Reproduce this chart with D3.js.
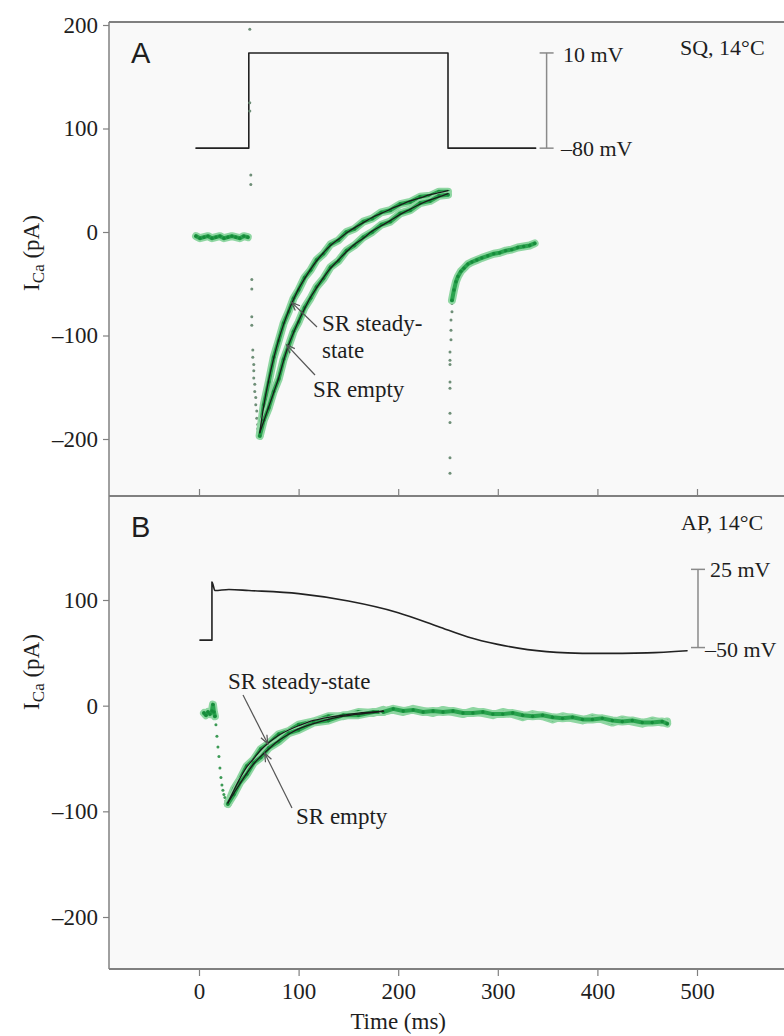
<!DOCTYPE html>
<html>
<head>
<meta charset="utf-8">
<script src="https://cdn.jsdelivr.net/npm/d3@7"></script>
<style>
  body { margin: 0; background: #fff; }
</style>
</head>
<body>
<svg id="chart" width="784" height="1036"></svg>
<script>
// ---- data ----
const xTicks = [0, 100, 200, 300, 400, 500];
const yTicksA = [200, 100, 0, -100, -200];
const yTicksB = [100, 0, -100, -200];

// panel A : square pulse protocol (drawn in the pA frame)
const stepA_t = [-3, 50, 50, 250, 250, 338];
const stepA_v = [81, 81, 173, 173, 81, 81];

// panel A : holding current before the step
const preA_t = [-3, 1, 5, 9, 13, 17, 21, 25, 29, 33, 37, 41, 45, 49];
const preA_v = [-4, -6, -5, -4, -6, -5, -4, -6, -5, -4, -5, -6, -4, -5];

// panel A : capacity transient samples at step onset
const capA_t = [51, 51, 51, 52, 52, 53, 53, 53, 53, 54, 54, 55, 55, 55, 56, 56, 57, 57, 58, 58, 59, 59, 60];
const capA_v = [196, 125, 117, 55, 46, -46, -55, -82, -90, -114, -121, -128, -134, -141, -147, -154, -160, -167, -173, -180, -186, -190, -196];

// panel A : inactivation, recorded and fitted
const fitA_t = [61, 65, 70, 75, 80, 85, 90, 95, 100, 106, 112, 118, 125, 132, 140, 148, 156, 165, 174, 183, 192, 202, 212, 222, 232, 241, 250];
const fitA_ss = [-194, -168, -143, -122, -104, -89, -76, -65, -55, -45, -36, -28, -20, -13, -7, -1, 4, 9, 14, 18, 22, 26, 30, 33, 36, 38, 40];
const fitA_empty = [-194, -183, -169, -155, -141, -124, -109, -97, -86, -74, -63, -54, -44, -35, -27, -19, -12, -6, 1, 6, 11, 17, 22, 27, 31, 34, 37];
const recA_ss = [-196, -167, -145, -121, -105, -88, -77, -64, -56, -44, -37, -27, -21, -12, -8, 0, 3, 10, 13, 19, 21, 27, 29, 34, 35, 39, 39];
const recA_empty = [-197, -182, -170, -154, -142, -123, -110, -96, -87, -73, -64, -53, -45, -34, -28, -18, -13, -5, 0, 7, 10, 18, 21, 28, 30, 35, 36];

// panel A : tail current after repolarisation
const tailDotsA_t = [252, 252, 252, 252, 252, 252, 252, 252, 252, 253, 253, 253, 254, 254];
const tailDotsA_v = [-233, -218, -184, -175, -151, -145, -128, -124, -116, -104, -95, -85, -77, -69];
const tailA_t = [254, 256, 258, 260, 263, 266, 270, 274, 279, 284, 290, 296, 302, 308, 314, 320, 326, 332, 337];
const tailA_v = [-66, -56, -48, -43, -38, -35, -31, -29, -27, -25, -23, -21, -20, -18, -17, -15, -14, -13, -11];

// panel B : action-potential clamp waveform (drawn in the pA frame)
const apB_t = [1, 13, 13, 16, 30, 50, 100, 150, 200, 240, 270, 300, 330, 370, 400, 450, 490];
const apB_v = [62, 62, 117, 109, 110, 109, 106, 99, 88, 75, 65, 58, 53, 50, 49.5, 50, 52];

// panel B : current
const preB_t = [5, 7, 9, 11, 13, 14, 15, 16];
const preB_v = [-7, -9, -6, -8, -5, 1, -6, -10];
const dropB_t = [17, 18, 19, 20, 21, 22, 23, 24, 25, 26, 27, 28];
const dropB_v = [-18, -29, -39, -48, -59, -68, -75, -80, -84, -87, -90, -92];
const fitB_t = [29, 35, 41, 48, 55, 62, 70, 80, 90, 100, 115, 130, 145, 160, 175, 185];
const fitB_ss = [-92, -80, -69, -58, -50, -42, -35, -28, -23, -19, -14, -11, -9, -7, -6, -5];
const fitB_empty = [-92, -83, -74, -64, -55, -48, -41, -33, -27, -22, -17, -13, -10, -8, -6.5, -5.5];
const recB_ss = [-93, -79, -70, -57, -51, -41, -36, -27, -24, -18, -15, -10, -10, -6, -7, -4];
const recB_empty = [-93, -84, -73, -65, -54, -49, -40, -34, -26, -23, -16, -14, -9, -9, -6, -6];
const tailB_t = [185, 195, 205, 215, 225, 235, 245, 255, 265, 275, 285, 295, 305, 315, 325, 335, 345, 355, 365, 375, 385, 395, 405, 415, 425, 435, 445, 455, 465, 470];
const tailB_a = [-5, -4, -6, -3, -5, -7, -4, -6, -8, -5, -7, -9, -6, -8, -11, -8, -10, -13, -10, -12, -14, -11, -13, -16, -13, -15, -17, -14, -16, -15];
const tailB_b = [-6, -3, -5, -4, -6, -5, -6, -5, -7, -7, -6, -8, -8, -7, -9, -10, -9, -11, -12, -11, -13, -13, -12, -14, -15, -14, -16, -16, -15, -17];

// ---- layout ----
const plotLeft = 109, plotRight = 784;
const topA = 22, sep = 496, bottom = 969;
const SERIF = "'Liberation Serif', 'Times New Roman', Times, serif";
const SANS = "'Liberation Sans', Arial, sans-serif";

const svg = d3.select("#chart");

const x = d3.scaleLinear().domain([0, 500]).range([199, 697]);
const yA = d3.scaleLinear().domain([-200, 200]).range([439, 25]);
const yB = d3.scaleLinear().domain([-200, 100]).range([917, 600]);

const fmt = d => d < 0 ? "\u2013" + Math.abs(d) : String(d);
const zip = (t, v) => t.map((d, i) => [d, v[i]]);

function label(g, px, py, str, size, family) {
  return g.append("text")
    .attr("x", px).attr("y", py)
    .attr("font-family", family || SERIF)
    .attr("font-size", size || 23)
    .attr("fill", "#1e1e1e")
    .text(str);
}

// plot background
svg.append("rect")
  .attr("x", plotLeft).attr("y", topA)
  .attr("width", plotRight - plotLeft).attr("height", bottom - topA)
  .attr("fill", "#f9f9f9");

// frame lines
const frame = svg.append("g").attr("stroke", "#808080").attr("fill", "none");
frame.append("line").attr("x1", plotLeft).attr("x2", plotRight).attr("y1", topA).attr("y2", topA).attr("stroke-width", 2);
frame.append("line").attr("x1", plotLeft).attr("x2", plotRight).attr("y1", sep).attr("y2", sep).attr("stroke-width", 2);
frame.append("line").attr("x1", plotLeft).attr("x2", plotRight).attr("y1", bottom).attr("y2", bottom).attr("stroke-width", 2);
frame.append("line").attr("x1", plotLeft).attr("x2", plotLeft).attr("y1", topA).attr("y2", bottom).attr("stroke-width", 1.5);

function styleAxis(g) {
  g.attr("font-family", SERIF).attr("font-size", 23);
  g.select(".domain").remove();
  g.selectAll(".tick line").attr("stroke", "#808080").attr("stroke-width", 1.2);
  g.selectAll(".tick text").attr("fill", "#1e1e1e");
}

svg.append("g").attr("transform", `translate(${plotLeft},0)`)
  .call(d3.axisLeft(yA).tickValues(yTicksA).tickSize(6).tickPadding(5).tickFormat(fmt))
  .call(styleAxis);
svg.append("g").attr("transform", `translate(${plotLeft},0)`)
  .call(d3.axisLeft(yB).tickValues(yTicksB).tickSize(6).tickPadding(5).tickFormat(fmt))
  .call(styleAxis);
svg.append("g").attr("transform", `translate(0,${sep})`)
  .call(d3.axisTop(x).tickValues(xTicks).tickSize(7).tickFormat(""))
  .call(styleAxis);
svg.append("g").attr("transform", `translate(0,${bottom})`)
  .call(d3.axisBottom(x).tickValues(xTicks).tickSize(7).tickPadding(7).tickFormat(fmt))
  .call(styleAxis);

// axis titles
label(svg, x(200), 1029, "Time (ms)").attr("text-anchor", "middle");

function yLabel(cy) {
  const t = svg.append("text")
    .attr("transform", `translate(39,${cy}) rotate(-90)`)
    .attr("text-anchor", "middle")
    .attr("font-family", SERIF).attr("font-size", 23).attr("fill", "#1e1e1e");
  t.append("tspan").text("I");
  t.append("tspan").attr("dy", 5).attr("font-size", 17).text("Ca");
  t.append("tspan").attr("dy", -5).text(" (pA)");
}
yLabel(253);
yLabel(672);

// panel letters and conditions
label(svg, 131, 63, "A", 29, SANS);
label(svg, 131, 537, "B", 29, SANS);
label(svg, 680, 55, "SQ, 14\u00B0C", 22);
label(svg, 681, 530, "AP, 14\u00B0C", 22);

// ---- drawing helpers ----
function line(g, xs, ys, t, v, stroke, width, curve) {
  g.append("path")
    .datum(zip(t, v))
    .attr("fill", "none")
    .attr("stroke", stroke)
    .attr("stroke-width", width)
    .attr("stroke-linejoin", "round")
    .attr("stroke-linecap", "round")
    .attr("d", d3.line().x(d => xs(d[0])).y(d => ys(d[1])).curve(curve || d3.curveLinear));
}

function greenTrace(g, ys, t, v) {
  line(g, x, ys, t, v, "#8fd6a2", 8);
  line(g, x, ys, t, v, "#2aa34e", 4);
  g.selectAll(null).data(zip(t, v)).enter().append("circle")
    .attr("cx", d => x(d[0])).attr("cy", d => ys(d[1])).attr("r", 1.7)
    .attr("fill", "#178b3b");
}

function sparseDots(g, ys, t, v, col) {
  g.selectAll(null).data(zip(t, v)).enter().append("circle")
    .attr("cx", d => x(d[0])).attr("cy", d => ys(d[1])).attr("r", 1.5)
    .attr("fill", col);
}

function scaleBar(g, ys, t, v0, v1) {
  const bx = x(t);
  g.append("line").attr("x1", bx).attr("x2", bx).attr("y1", ys(v0)).attr("y2", ys(v1))
    .attr("stroke", "#8a8a8a").attr("stroke-width", 1.5);
  [v0, v1].forEach(v => {
    g.append("line").attr("x1", bx - 7).attr("x2", bx + 7).attr("y1", ys(v)).attr("y2", ys(v))
      .attr("stroke", "#8a8a8a").attr("stroke-width", 1.5);
  });
}

function arrow(g, x0, y0, x1, y1) {
  g.append("line").attr("x1", x0).attr("y1", y0).attr("x2", x1).attr("y2", y1)
    .attr("stroke", "#555").attr("stroke-width", 1.2);
  const a = Math.atan2(y1 - y0, x1 - x0), L = 9, w = 0.38;
  g.append("path")
    .attr("d", `M${x1 - L * Math.cos(a - w)},${y1 - L * Math.sin(a - w)}L${x1},${y1}L${x1 - L * Math.cos(a + w)},${y1 - L * Math.sin(a + w)}`)
    .attr("fill", "none").attr("stroke", "#555").attr("stroke-width", 1.2);
}

// ---- panel A ----
const gA = svg.append("g");
line(gA, x, yA, stepA_t, stepA_v, "#222", 1.6);
scaleBar(gA, yA, 349, 81, 173);
label(gA, 563, 62, "10 mV", 22);
label(gA, 561, 156, "\u201380 mV", 22);

greenTrace(gA, yA, preA_t, preA_v);
sparseDots(gA, yA, capA_t, capA_v, "#6f8f78");
greenTrace(gA, yA, fitA_t, recA_ss);
greenTrace(gA, yA, fitA_t, recA_empty);
sparseDots(gA, yA, tailDotsA_t, tailDotsA_v, "#6f8f78");
greenTrace(gA, yA, tailA_t, tailA_v);
line(gA, x, yA, fitA_t, fitA_ss, "#1a1a1a", 1.3, d3.curveCatmullRom);
line(gA, x, yA, fitA_t, fitA_empty, "#1a1a1a", 1.3, d3.curveCatmullRom);

arrow(gA, 317, 327, x(93), yA(-68));
arrow(gA, 315, 375, x(88), yA(-109));
label(gA, 322, 331, "SR steady-");
label(gA, 322, 358, "state");
label(gA, 313, 397, "SR empty");

// ---- panel B ----
const gB = svg.append("g");
line(gB, x, yB, apB_t, apB_v, "#222", 1.6, d3.curveMonotoneX);
scaleBar(gB, yB, 501, 55, 129);
label(gB, 710, 577, "25 mV", 22);
label(gB, 705, 657, "\u201350 mV", 22);

greenTrace(gB, yB, preB_t, preB_v);
sparseDots(gB, yB, dropB_t, dropB_v, "#3c9a55");
greenTrace(gB, yB, fitB_t, recB_ss);
greenTrace(gB, yB, fitB_t, recB_empty);
greenTrace(gB, yB, tailB_t, tailB_a);
greenTrace(gB, yB, tailB_t, tailB_b);
line(gB, x, yB, fitB_t, fitB_ss, "#1a1a1a", 1.3, d3.curveCatmullRom);
line(gB, x, yB, fitB_t, fitB_empty, "#1a1a1a", 1.3, d3.curveCatmullRom);

arrow(gB, 243, 695, x(69), yB(-36));
arrow(gB, 292, 808, x(66), yB(-45));
label(gB, 228, 689, "SR steady-state");
label(gB, 296, 824, "SR empty");
</script>
</body>
</html>
